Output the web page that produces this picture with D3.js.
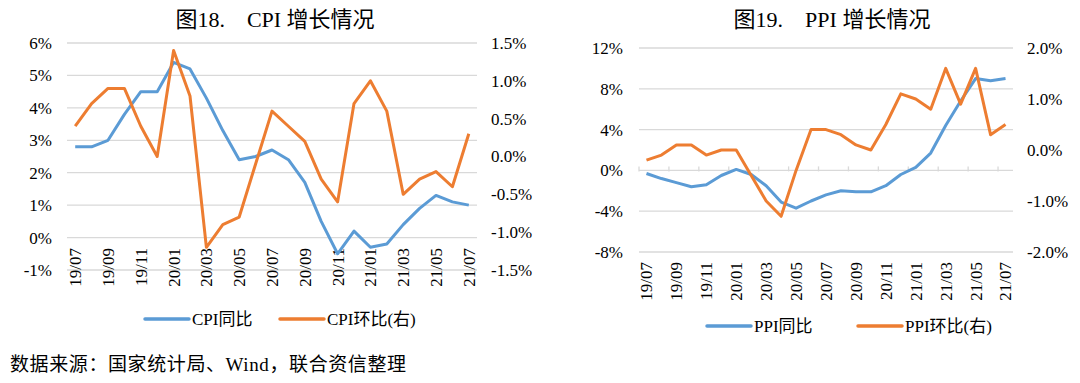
<!DOCTYPE html>
<html>
<head>
<meta charset="utf-8">
<script src="https://cdn.jsdelivr.net/npm/d3@7"></script>
<style>
  html, body { margin: 0; padding: 0; background: #fff; }
  svg { display: block; }
  text { font-family: "Liberation Serif", "Noto Sans CJK SC", serif; fill: #000; }
</style>
</head>
<body>
<svg id="chart" width="1080" height="383"></svg>
<script>
// ---- data ----
const months = ["19/07","19/08","19/09","19/10","19/11","19/12","20/01","20/02","20/03","20/04","20/05","20/06","20/07","20/08","20/09","20/10","20/11","20/12","21/01","21/02","21/03","21/04","21/05","21/06","21/07"];
const xTickLabels = ["19/07","19/09","19/11","20/01","20/03","20/05","20/07","20/09","20/11","21/01","21/03","21/05","21/07"];

const cpiYoY = [2.8,2.8,3.0,3.8,4.5,4.5,5.4,5.2,4.3,3.3,2.4,2.5,2.7,2.4,1.7,0.5,-0.5,0.2,-0.3,-0.2,0.4,0.9,1.3,1.1,1.0];
const cpiMoM = [0.4,0.7,0.9,0.9,0.4,0.0,1.4,0.8,-1.2,-0.9,-0.8,-0.1,0.6,0.4,0.2,-0.3,-0.6,0.7,1.0,0.6,-0.5,-0.3,-0.2,-0.4,0.3];
const ppiYoY = [-0.3,-0.8,-1.2,-1.6,-1.4,-0.5,0.1,-0.4,-1.5,-3.1,-3.7,-3.0,-2.4,-2.0,-2.1,-2.1,-1.5,-0.4,0.3,1.7,4.4,6.8,9.0,8.8,9.0];
const ppiMoM = [-0.2,-0.1,0.1,0.1,-0.1,0.0,0.0,-0.5,-1.0,-1.3,-0.4,0.4,0.4,0.3,0.1,0.0,0.5,1.1,1.0,0.8,1.6,0.9,1.6,0.3,0.5];

const cpiLeftTicks = [-1,0,1,2,3,4,5,6];
const cpiLeftLabels = ["-1%","0%","1%","2%","3%","4%","5%","6%"];
const cpiRightTicks = [-1.5,-1.0,-0.5,0.0,0.5,1.0,1.5];
const cpiRightLabels = ["-1.5%","-1.0%","-0.5%","0.0%","0.5%","1.0%","1.5%"];

const ppiLeftTicks = [-8,-4,0,4,8,12];
const ppiLeftLabels = ["-8%","-4%","0%","4%","8%","12%"];
const ppiRightTicks = [-2,-1,0,1,2];
const ppiRightLabels = ["-2.0%","-1.0%","0.0%","1.0%","2.0%"];

const BLUE = "#5B9BD5", ORANGE = "#ED7D31", GRID = "#D9D9D9";

const svg = d3.select("#chart");

function drawChart(c) {
  const g = svg.append("g");
  const x = d3.scaleBand().domain(months).range([c.x0, c.x1]);
  const yL = d3.scaleLinear().domain(c.leftDomain).range([c.yBottom, c.yTop]);
  const yR = d3.scaleLinear().domain(c.rightDomain).range([c.yBottom, c.yTop]);
  const cx = d => x(d) + x.bandwidth() / 2;

  // gridlines
  g.selectAll("line.grid").data(c.leftTicks).join("line")
    .attr("x1", c.x0).attr("x2", c.x1)
    .attr("y1", d => yL(d)).attr("y2", d => yL(d))
    .attr("stroke", GRID).attr("stroke-width", 1.3);

  // tick marks on the zero line
  if (c.ticks) {
    const tickPos = d3.range(0, months.length + 1, 2).map(i => c.x0 + i * x.bandwidth());
    g.selectAll("line.tk").data(tickPos).join("line")
      .attr("x1", d => d).attr("x2", d => d)
      .attr("y1", yL(0) - 4).attr("y2", yL(0) + 1)
      .attr("stroke", GRID).attr("stroke-width", 1.3);
  }

  // left axis labels
  g.selectAll("text.yl").data(c.leftTicks).join("text")
    .attr("x", c.leftLabelX).attr("y", d => yL(d)).attr("dy", "0.35em")
    .attr("text-anchor", "end").attr("font-size", 17)
    .text((d, i) => c.leftLabels[i]);

  // right axis labels
  g.selectAll("text.yr").data(c.rightTicks).join("text")
    .attr("x", c.rightLabelX).attr("y", d => yR(d)).attr("dy", "0.35em")
    .attr("text-anchor", "start").attr("font-size", 17)
    .text((d, i) => c.rightLabels[i]);

  // x labels (rotated)
  g.selectAll("text.xl").data(xTickLabels).join("text")
    .attr("transform", d => `translate(${cx(d)},${c.xLabelTop}) rotate(-90)`)
    .attr("dy", "0.35em")
    .attr("text-anchor", "end").attr("font-size", 17)
    .text(d => d);

  // lines
  const lineL = d3.line().x((d, i) => cx(months[i])).y(d => yL(d));
  const lineR = d3.line().x((d, i) => cx(months[i])).y(d => yR(d));
  g.append("path").datum(c.yoy).attr("d", lineL)
    .attr("fill", "none").attr("stroke", BLUE).attr("stroke-width", 3)
    .attr("stroke-linejoin", "round");
  g.append("path").datum(c.mom).attr("d", lineR)
    .attr("fill", "none").attr("stroke", ORANGE).attr("stroke-width", 3)
    .attr("stroke-linejoin", "round");

  // title
  g.append("text").attr("x", c.titleX).attr("y", c.titleY)
    .attr("text-anchor", "middle").attr("font-size", 22)
    .text(c.title);

  // legend
  const lg = c.legend;
  [[BLUE, lg.l1, c.name1], [ORANGE, lg.l2, c.name2]].forEach(([col, lx, name]) => {
    g.append("line").attr("x1", lx).attr("x2", lx + 44)
      .attr("y1", lg.y).attr("y2", lg.y)
      .attr("stroke", col).attr("stroke-width", 3.5).attr("stroke-linecap", "round");
    g.append("text").attr("x", lx + 47).attr("y", lg.y).attr("dy", "0.36em")
      .attr("font-size", 17).text(name);
  });
}

drawChart({
  x0: 67, x1: 477, yTop: 43, yBottom: 270,
  leftDomain: [-1, 6], rightDomain: [-1.5, 1.5],
  leftTicks: cpiLeftTicks, leftLabels: cpiLeftLabels,
  rightTicks: cpiRightTicks, rightLabels: cpiRightLabels,
  leftLabelX: 52, rightLabelX: 491, xLabelTop: 248, ticks: false,
  yoy: cpiYoY, mom: cpiMoM,
  title: "图18.\u3000CPI 增长情况", titleX: 275, titleY: 27,
  name1: "CPI同比", name2: "CPI环比(右)",
  legend: { y: 319, l1: 145, l2: 280 }
});

drawChart({
  x0: 639, x1: 1013, yTop: 48, yBottom: 252,
  leftDomain: [-8, 12], rightDomain: [-2, 2],
  leftTicks: ppiLeftTicks, leftLabels: ppiLeftLabels,
  rightTicks: ppiRightTicks, rightLabels: ppiRightLabels,
  leftLabelX: 623, rightLabelX: 1027, xLabelTop: 262, ticks: true,
  yoy: ppiYoY, mom: ppiMoM,
  title: "图19.\u3000PPI 增长情况", titleX: 832, titleY: 27,
  name1: "PPI同比", name2: "PPI环比(右)",
  legend: { y: 326, l1: 707, l2: 858 }
});

svg.append("text").attr("x", 10).attr("y", 371)
  .attr("font-size", 19).attr("letter-spacing", 0.6)
  .text("数据来源：国家统计局、Wind，联合资信整理");
</script>
</body>
</html>
